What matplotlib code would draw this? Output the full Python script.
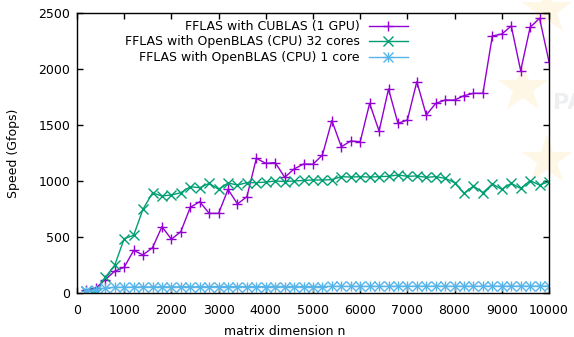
import numpy as np
import matplotlib
matplotlib.use("Agg")
import matplotlib.pyplot as plt

# matrix sizes (n x n), one run every 200
n = np.arange(200, 10001, 200)

cublas_gpu = [25, 45, 120, 195, 230, 380, 340, 405, 592, 480,
              548, 765, 815, 711, 711, 925, 795, 860, 1202, 1158,
              1164, 1033, 1107, 1152, 1150, 1232, 1539, 1306, 1357, 1351,
              1693, 1446, 1821, 1515, 1545, 1887, 1589, 1693, 1723, 1723,
              1762, 1783, 1783, 2295, 2312, 2384, 1985, 2372, 2453, 2065]

openblas_32 = [20, 0, 140, 250, 485, 515, 750, 893, 866, 875,
               896, 949, 940, 979, 926, 982, 964, 985, 985, 990,
               1000, 995, 1000, 1005, 1009, 1009, 1012, 1039, 1035, 1039,
               1035, 1039, 1042, 1054, 1042, 1045, 1033, 1039, 1024, 985,
               890, 955, 896, 973, 926, 979, 934, 1003, 964, 994]

openblas_1 = [20, 30, 45, 50, 52, 53, 54, 55, 55, 55,
              56, 56, 56, 56, 57, 57, 57, 57, 57, 58,
              58, 58, 58, 58, 58, 58, 59, 59, 59, 59,
              59, 59, 59, 59, 60, 60, 60, 60, 60, 60,
              60, 60, 60, 61, 61, 61, 61, 61, 61, 61]

labels = ["FFLAS with CUBLAS (1 GPU)",
          "FFLAS with OpenBLAS (CPU) 32 cores",
          "FFLAS with OpenBLAS (CPU) 1 core"]
colors = ["#9400D3", "#009E73", "#56B4E9"]

plt.rcParams['font.family'] = ['DejaVu Sans']
fs = 9

fig = plt.figure(figsize=(5.74, 3.37), dpi=100)

# faint background decoration
bg = fig.add_axes([0, 0, 1, 1], zorder=0)
bg.set_xlim(0, 574)
bg.set_ylim(337, 0)
bg.axis("off")
for sx, sy in [(547, 10), (523, 88), (547, 160)]:
    bg.plot(sx, sy, marker="*", markersize=38, color="#FFF7E6",
            markeredgewidth=0)
bg.text(553, 103, "PA", fontsize=16, color="#EDEFF1", va="center",
        ha="left", fontweight="bold")

ax = fig.add_axes([77 / 574, 44 / 337, 472 / 574, 280 / 337], zorder=1)
ax.set_facecolor("none")

l1, = ax.plot(n, cublas_gpu, color=colors[0], lw=1, marker="+",
              markersize=7.5, markeredgewidth=1)
l2, = ax.plot(n, openblas_32, color=colors[1], lw=1, marker="x",
              markersize=6.5, markeredgewidth=1)
l3a, = ax.plot(n, openblas_1, color=colors[2], lw=1, marker="+",
               markersize=7.5, markeredgewidth=1)
l3b, = ax.plot(n, openblas_1, color=colors[2], lw=0, marker="x",
               markersize=6.5, markeredgewidth=1)

ax.set_xlim(0, 10000)
ax.set_ylim(0, 2500)
ax.set_xticks(np.arange(0, 10001, 1000))
ax.set_yticks(np.arange(0, 2501, 500))
ax.tick_params(direction="in", length=4, width=1, top=True, right=True,
               labelsize=fs, pad=5)
ax.tick_params(axis="x", pad=8)
for sp in ax.spines.values():
    sp.set_linewidth(1)

ax.set_xlabel("matrix dimension n", fontsize=fs)
ax.set_ylabel("Speed (Gfops)", fontsize=fs)
ax.xaxis.set_label_coords(0.44, -0.113)
ax.yaxis.set_label_coords(-0.121, 0.5)

leg = ax.legend([l1, l2, (l3a, l3b)], labels, loc="upper right",
                bbox_to_anchor=(0.701, 0.975), frameon=False, markerfirst=False,
                fontsize=fs, handlelength=3.1, handletextpad=0.75,
                labelspacing=0.2, borderpad=0, borderaxespad=0)

fig.savefig("out.png", dpi=100)
